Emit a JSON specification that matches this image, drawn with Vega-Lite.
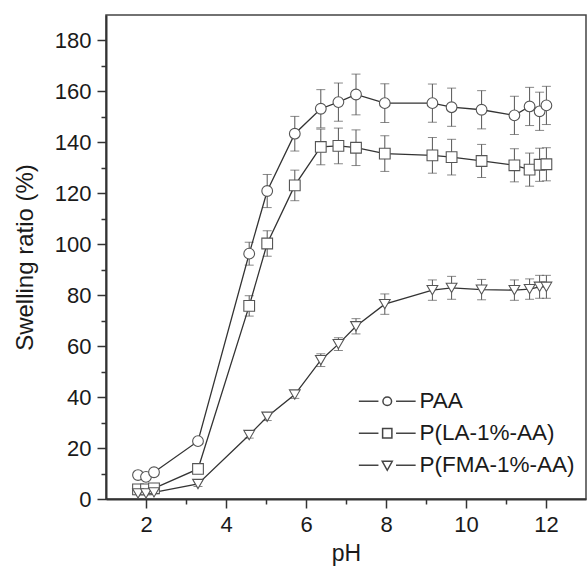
{
  "$schema": "https://vega.github.io/schema/vega-lite/v6.json",
  "width": 480,
  "height": 484,
  "autosize": "none",
  "padding": {"left": 106, "top": 15, "right": 2, "bottom": 67},
  "background": "white",
  "config": {
    "view": {"stroke": "#444", "strokeWidth": 1.5},
    "font": "Liberation Sans"
  },
  "data": {
    "values": [
      {"series": "PAA", "pH": 1.8, "ratio": 9.4, "err": 1},
      {"series": "PAA", "pH": 2.0, "ratio": 8.7, "err": 1},
      {"series": "PAA", "pH": 2.2, "ratio": 10.5, "err": 1},
      {"series": "PAA", "pH": 3.3, "ratio": 22.7, "err": 1},
      {"series": "PAA", "pH": 4.58, "ratio": 96.3, "err": 4.5},
      {"series": "PAA", "pH": 5.03, "ratio": 120.9, "err": 6.5},
      {"series": "PAA", "pH": 5.72, "ratio": 143.4, "err": 6.8},
      {"series": "PAA", "pH": 6.37, "ratio": 153.2, "err": 7.5},
      {"series": "PAA", "pH": 6.81, "ratio": 155.8, "err": 7.5},
      {"series": "PAA", "pH": 7.25, "ratio": 158.8, "err": 8},
      {"series": "PAA", "pH": 7.97, "ratio": 155.4, "err": 7.6},
      {"series": "PAA", "pH": 9.16, "ratio": 155.4, "err": 7.5},
      {"series": "PAA", "pH": 9.64, "ratio": 153.8, "err": 7.5},
      {"series": "PAA", "pH": 10.39, "ratio": 152.8, "err": 7.5},
      {"series": "PAA", "pH": 11.21, "ratio": 150.6, "err": 7.5},
      {"series": "PAA", "pH": 11.59, "ratio": 154.1, "err": 7.5},
      {"series": "PAA", "pH": 11.84, "ratio": 152.2, "err": 7.5},
      {"series": "PAA", "pH": 12.01, "ratio": 154.5, "err": 7.5},
      {"series": "P(LA-1%-AA)", "pH": 1.8, "ratio": 3.8, "err": 0.8},
      {"series": "P(LA-1%-AA)", "pH": 2.0, "ratio": 3.8, "err": 0.8},
      {"series": "P(LA-1%-AA)", "pH": 2.2, "ratio": 4.2, "err": 0.8},
      {"series": "P(LA-1%-AA)", "pH": 3.3, "ratio": 11.8, "err": 1.5},
      {"series": "P(LA-1%-AA)", "pH": 4.58, "ratio": 75.8, "err": 4},
      {"series": "P(LA-1%-AA)", "pH": 5.03, "ratio": 100.3, "err": 5},
      {"series": "P(LA-1%-AA)", "pH": 5.72, "ratio": 123.1, "err": 6},
      {"series": "P(LA-1%-AA)", "pH": 6.37, "ratio": 138.2, "err": 7},
      {"series": "P(LA-1%-AA)", "pH": 6.81, "ratio": 138.6, "err": 7},
      {"series": "P(LA-1%-AA)", "pH": 7.25, "ratio": 137.9, "err": 7},
      {"series": "P(LA-1%-AA)", "pH": 7.97, "ratio": 135.6, "err": 7},
      {"series": "P(LA-1%-AA)", "pH": 9.16, "ratio": 134.9, "err": 7},
      {"series": "P(LA-1%-AA)", "pH": 9.64, "ratio": 134.2, "err": 7},
      {"series": "P(LA-1%-AA)", "pH": 10.39, "ratio": 132.7, "err": 6.5},
      {"series": "P(LA-1%-AA)", "pH": 11.21, "ratio": 131.0, "err": 6.5},
      {"series": "P(LA-1%-AA)", "pH": 11.59, "ratio": 129.3, "err": 6.5},
      {"series": "P(LA-1%-AA)", "pH": 11.84, "ratio": 131.2, "err": 6.5},
      {"series": "P(LA-1%-AA)", "pH": 12.01, "ratio": 131.4, "err": 6.5},
      {"series": "P(FMA-1%-AA)", "pH": 1.8, "ratio": 2.2, "err": 0.5},
      {"series": "P(FMA-1%-AA)", "pH": 2.0, "ratio": 2.2, "err": 0.5},
      {"series": "P(FMA-1%-AA)", "pH": 2.2, "ratio": 2.6, "err": 0.5},
      {"series": "P(FMA-1%-AA)", "pH": 3.3, "ratio": 5.9, "err": 1},
      {"series": "P(FMA-1%-AA)", "pH": 4.58, "ratio": 25.1, "err": 1.2},
      {"series": "P(FMA-1%-AA)", "pH": 5.03, "ratio": 32.3, "err": 1.5},
      {"series": "P(FMA-1%-AA)", "pH": 5.72, "ratio": 41.0, "err": 1.5},
      {"series": "P(FMA-1%-AA)", "pH": 6.37, "ratio": 54.5, "err": 2.5},
      {"series": "P(FMA-1%-AA)", "pH": 6.81, "ratio": 60.8, "err": 2.5},
      {"series": "P(FMA-1%-AA)", "pH": 7.25, "ratio": 67.8, "err": 3},
      {"series": "P(FMA-1%-AA)", "pH": 7.97, "ratio": 76.5, "err": 4},
      {"series": "P(FMA-1%-AA)", "pH": 9.16, "ratio": 82.0, "err": 4},
      {"series": "P(FMA-1%-AA)", "pH": 9.64, "ratio": 82.9, "err": 4.5},
      {"series": "P(FMA-1%-AA)", "pH": 10.39, "ratio": 82.2, "err": 4},
      {"series": "P(FMA-1%-AA)", "pH": 11.21, "ratio": 82.0, "err": 4},
      {"series": "P(FMA-1%-AA)", "pH": 11.59, "ratio": 82.4, "err": 4},
      {"series": "P(FMA-1%-AA)", "pH": 11.84, "ratio": 83.3, "err": 4.5},
      {"series": "P(FMA-1%-AA)", "pH": 12.01, "ratio": 83.3, "err": 4.5}
    ]
  },
  "encoding": {
    "x": {
      "field": "pH",
      "type": "quantitative",
      "scale": {"domain": [1, 13], "nice": false, "zero": false},
      "axis": {
        "title": "pH",
        "values": [2, 3, 4, 5, 6, 7, 8, 9, 10, 11, 12],
        "labelExpr": "datum.value % 2 === 0 ? datum.label : ''",
        "tickSize": {"condition": {"test": "datum.value % 2 === 0", "value": 9}, "value": 5},
        "labelOverlap": false,
        "labelFlush": false,
        "grid": false,
        "domainColor": "#333",
        "domainWidth": 2,
        "tickColor": "#333",
        "tickWidth": 1.5,
        "labelFont": "Liberation Sans",
        "labelFontSize": 22,
        "labelColor": "#1a1a1a",
        "labelPadding": 6,
        "titleFont": "Liberation Sans",
        "titleFontSize": 23,
        "titleFontWeight": "normal",
        "titleColor": "#1a1a1a",
        "titlePadding": 7
      }
    },
    "y": {
      "field": "ratio",
      "type": "quantitative",
      "scale": {"domain": [0, 190], "nice": false, "zero": false},
      "axis": {
        "title": "Swelling ratio (%)",
        "values": [0, 10, 20, 30, 40, 50, 60, 70, 80, 90, 100, 110, 120, 130, 140, 150, 160, 170, 180],
        "labelExpr": "datum.value % 20 === 0 ? datum.label : ''",
        "tickSize": {"condition": {"test": "datum.value % 20 === 0", "value": 9}, "value": 5},
        "labelOverlap": false,
        "labelFlush": false,
        "grid": false,
        "domainColor": "#333",
        "domainWidth": 2,
        "tickColor": "#333",
        "tickWidth": 1.5,
        "labelFont": "Liberation Sans",
        "labelFontSize": 22,
        "labelColor": "#1a1a1a",
        "labelPadding": 6,
        "titleFont": "Liberation Sans",
        "titleFontSize": 24,
        "titleFontWeight": "normal",
        "titleColor": "#1a1a1a",
        "titlePadding": 17
      }
    }
  },
  "layer": [
    {
      "mark": {"type": "errorbar", "ticks": {"size": 9}, "color": "#555"},
      "encoding": {"yError": {"field": "err"}}
    },
    {
      "mark": {"type": "line", "color": "#333", "strokeWidth": 1.3},
      "encoding": {"detail": {"field": "series", "type": "nominal"}}
    },
    {
      "mark": {"type": "point", "filled": true, "fill": "white", "stroke": "#555", "strokeWidth": 1.1, "size": 115, "opacity": 1},
      "encoding": {
        "shape": {
          "field": "series",
          "type": "nominal",
          "scale": {"domain": ["PAA", "P(LA-1%-AA)", "P(FMA-1%-AA)"], "range": ["circle", "square", "triangle-down"]},
          "legend": null
        }
      }
    },
    {
      "mark": {"type": "point", "filled": false, "stroke": "#444", "strokeWidth": 1.2, "size": 64, "opacity": 0},
      "encoding": {
        "shape": {
          "field": "series",
          "type": "nominal",
          "scale": {
            "domain": ["PAA", "P(LA-1%-AA)", "P(FMA-1%-AA)"],
            "range": [
              "M-5.6,0L-0.7,0M3.7,0L8.6,0M0.42,0A1.08,1.08,0,1,1,2.58,0A1.08,1.08,0,1,1,0.42,0Z",
              "M-5.6,0L-0.7,0M3.7,0L8.6,0M0.34,-1.16L2.66,-1.16L2.66,1.16L0.34,1.16Z",
              "M-5.6,0L-0.7,0M3.7,0L8.6,0M0.25,-1.0L2.75,-1.0L1.5,1.25Z"
            ]
          },
          "legend": {
            "orient": "none",
            "legendX": 264,
            "legendY": 375,
            "title": null,
            "padding": 0,
            "labelFont": "Liberation Sans",
            "labelFontSize": 22.5,
            "labelColor": "#1a1a1a",
            "labelOffset": 27,
            "rowPadding": 9,
            "symbolSize": 64,
            "encode": {
              "symbols": {
                "stroke": {"value": "#444"},
                "fill": {"value": "white"},
                "strokeWidth": {"value": 1.2},
                "opacity": {"value": 1},
                "size": {"value": 64}
              }
            }
          }
        }
      }
    }
  ],
  "resolve": {"scale": {"shape": "independent"}}
}
